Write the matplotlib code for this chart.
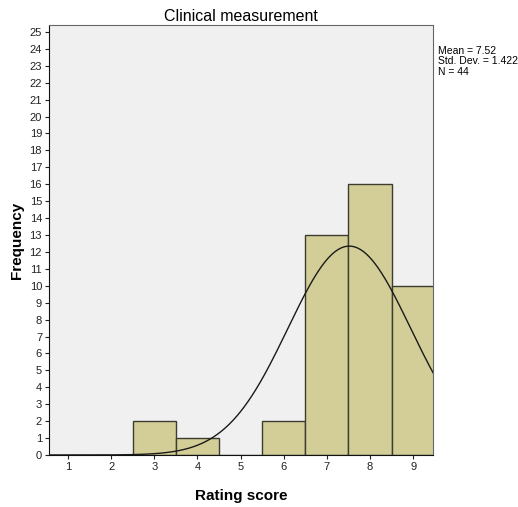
import matplotlib.pyplot as plt
import numpy as np

# histogram of rating scores (bin centers and counts)
scores = [1, 2, 3, 4, 5, 6, 7, 8, 9]
counts = [0, 0, 2, 1, 0, 2, 13, 16, 10]
mean = 7.52
std_dev = 1.422
n_obs = 44
yticks = list(range(0, 26))

plt.rcParams['font.family'] = ['Liberation Sans', 'DejaVu Sans']

fig = plt.figure(figsize=(5.18, 5.07), dpi=100)
ax = fig.add_axes([49/518, 1-455/507, (433-49)/518, (455-25)/507])
ax.set_facecolor('#f0f0f0')

ax.bar(scores, counts, width=1.0, color='#d3ce97', edgecolor='#3c3c30', linewidth=1.0, zorder=2)

# normal curve scaled to counts (bin width 1)
xs = np.linspace(0.56, 9.46, 300)
ys = n_obs * np.exp(-0.5*((xs-mean)/std_dev)**2) / (std_dev*np.sqrt(2*np.pi))
ax.plot(xs, ys, color='#1a1a1a', linewidth=1.0, zorder=3)

ax.set_xlim(0.56, 9.46)
ax.set_ylim(0, 25.41)
ax.set_xticks(scores)
ax.set_yticks(yticks)
ax.tick_params(axis='both', labelsize=8, length=3, width=0.8, direction='out', colors='#222222', pad=2)
for s in ['left', 'bottom']:
    ax.spines[s].set_color('#111111')
for s in ['top', 'right']:
    ax.spines[s].set_color('#666666')

ax.set_title('Clinical measurement', fontsize=11.5, pad=3)
ax.set_xlabel('Rating score', fontsize=11, fontweight='bold', labelpad=12)
ax.set_ylabel('Frequency', fontsize=11, fontweight='bold', labelpad=4)

fig.text(438/518, 1-46/507, 'Mean = %.2f\nStd. Dev. = %.3f\nN = %d' % (mean, std_dev, n_obs),
         fontsize=7.5, va='top', ha='left', linespacing=1.05)

fig.savefig('out.png', dpi=100)
